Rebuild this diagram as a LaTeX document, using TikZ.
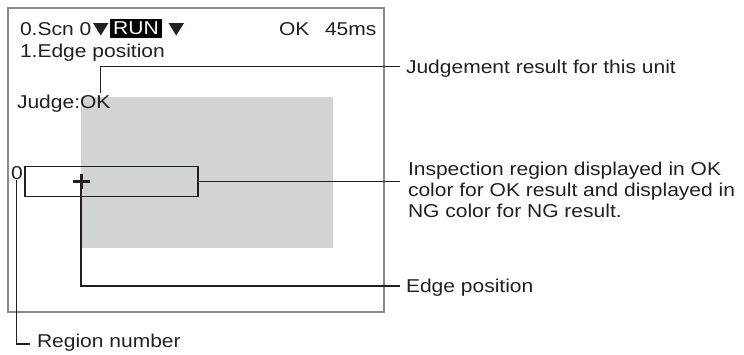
\documentclass[tikz,border=0pt]{standalone}
\usepackage{fontspec}
\usepackage{graphicx}
\setmainfont{Liberation Sans}
\newcommand\hs[1]{\scalebox{1.13}[1]{#1}}
\definecolor{framegray}{HTML}{8C8C8C}
\definecolor{areagray}{HTML}{D1D3D4}
\definecolor{ink}{HTML}{231F20}
\tikzset{
  lbl/.style={inner sep=0pt, outer sep=0pt, anchor=base west, text=ink, font=\fontsize{18.6}{21}\selectfont},
  leader/.style={draw=ink, line width=1.2pt},
}
\begin{document}
\begin{tikzpicture}[x=1pt, y=-1pt]
\useasboundingbox (0,0) rectangle (744,354);
% screen frame
\draw[framegray, line width=2pt] (7.5,7.5) rectangle (384,312);
% inspection area
\fill[areagray] (81,97) rectangle (333,248);
% header line
\node[lbl] (scn) at (20,35) {\hs{0.Scn 0}};
\fill[ink] (93,23) -- (108.5,23) -- (100.75,35.5) -- cycle;
\node[fill=black, text=white, inner sep=0pt, outer sep=0pt, minimum width=52pt, minimum height=19pt, font=\fontsize{18.6}{21}\selectfont] (run) at (136,28) {\hs{RUN}};
\fill[ink] (168.5,23) -- (184,23) -- (176.25,35.5) -- cycle;
\node[lbl] (ok) at (279,35) {\hs{OK}};
\node[lbl] (ms) at (325,35) {\hs{45ms}};
\node[lbl] (edgeitem) at (20,57) {\hs{1.Edge position}};
\node[lbl] (judge) at (17,108) {\hs{Judge:OK}};
% region box and number
\node[draw=ink, line width=1.2pt, inner sep=0pt, outer sep=0pt, minimum width=173pt, minimum height=30pt, anchor=north west] (rbox) at (25,166.7) {};
\node[lbl] (rnum) at (11,179) {\hs{0}};
% edge position mark
\coordinate (plus) at (81,181.5);
\draw[ink, line width=3pt] (72.5,181.5) -- (89.5,181.5);
\draw[ink, line width=3pt] (81,174) -- (81,189);
% labels
\node[lbl] (ljudge) at (406,73.5) {\hs{Judgement result for this unit}};
\node[lbl] (linsp) at (408,175) {\hs{\begin{tabular}[t]{@{}l@{}}Inspection region displayed in OK\\color for OK result and displayed in\\NG color for NG result.\end{tabular}}};
\node[lbl] (ledge) at (406,292.5) {\hs{Edge position}};
\node[lbl] (lreg) at (37,347) {\hs{Region number}};
% leaders
\coordinate (jstart) at (100.5,93);
\coordinate (jend) at (400,66.5);
\coordinate (iend) at (400,181.7);
\coordinate (eend) at (400,286);
\coordinate (pbot) at (81,189);
\coordinate (rtop) at (16.7,180);
\coordinate (rend) at (30,344);
\draw[leader] (jstart) |- (jend);
\draw[leader] (rbox.east) -- (iend);
\draw[leader] (pbot) |- (eend);
\draw[leader] (rtop) |- (rend);
\end{tikzpicture}
\end{document}
